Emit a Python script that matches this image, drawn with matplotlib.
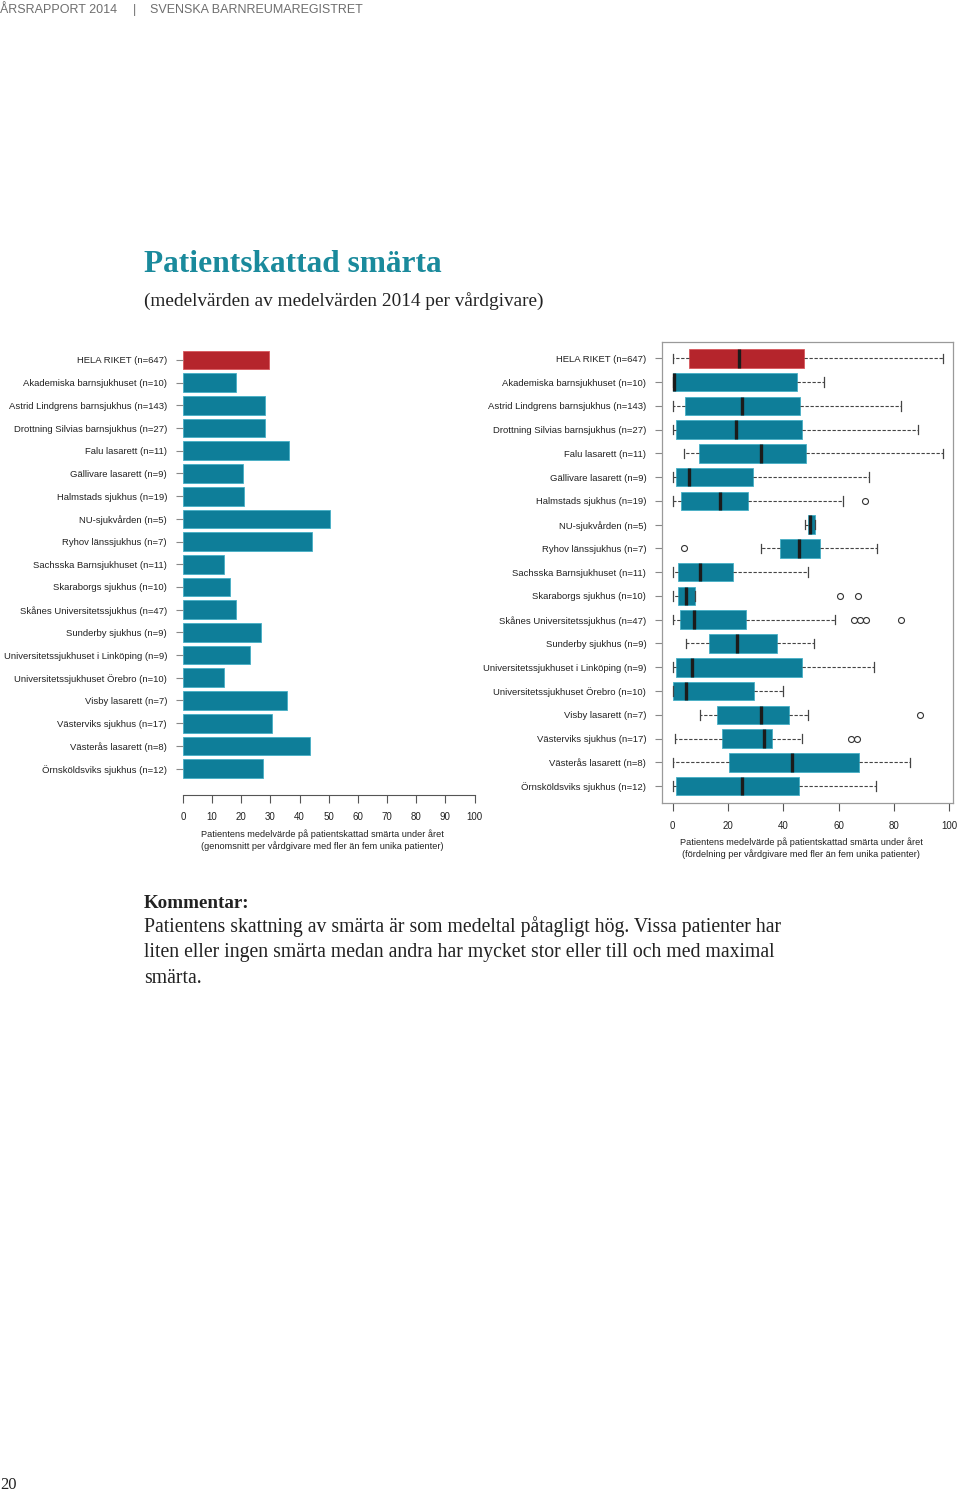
import numpy as np
import matplotlib
matplotlib.use('Agg')
import matplotlib.pyplot as plt

# vårdgivare (uppifrån och ned)
hospitals = [
    'HELA RIKET (n=647)',
    'Akademiska barnsjukhuset (n=10)',
    'Astrid Lindgrens barnsjukhus (n=143)',
    'Drottning Silvias barnsjukhus (n=27)',
    'Falu lasarett (n=11)',
    'Gällivare lasarett (n=9)',
    'Halmstads sjukhus (n=19)',
    'NU-sjukvården (n=5)',
    'Ryhov länssjukhus (n=7)',
    'Sachsska Barnsjukhuset (n=11)',
    'Skaraborgs sjukhus (n=10)',
    'Skånes Universitetssjukhus (n=47)',
    'Sunderby sjukhus (n=9)',
    'Universitetssjukhuset i Linköping (n=9)',
    'Universitetssjukhuset Örebro (n=10)',
    'Visby lasarett (n=7)',
    'Västerviks sjukhus (n=17)',
    'Västerås lasarett (n=8)',
    'Örnsköldsviks sjukhus (n=12)',
]

# medelvärde per vårdgivare
mean_pain = [29.4, 18.1, 28.3, 28.1, 36.2, 20.7, 21.0, 50.3, 44.2, 14.1,
             16.0, 18.1, 26.8, 23.0, 13.9, 35.7, 30.7, 43.7, 27.3]

# fördelning per vårdgivare (boxplot)
whislo = [0.0, 0.0, 0.0, 0.1, 4.0, 0.0, 0.0, 48.0, 31.9, 0.0,
          0.0, 0.0, 4.9, 0.0, 0.0, 10.0, 1.0, 0.0, 0.0]
q1 = [6.0, 0.0, 4.6, 1.3, 9.5, 1.1, 3.0, 48.8, 38.9, 2.0,
      2.0, 2.8, 13.0, 1.1, 0.0, 16.0, 17.9, 20.5, 1.1]
med = [23.8, 0.5, 24.9, 23.0, 31.9, 6.0, 17.0, 49.7, 45.8, 10.0,
       4.7, 7.6, 23.2, 7.0, 4.9, 32.1, 32.9, 43.3, 24.9]
q3 = [47.3, 44.8, 46.1, 46.7, 48.3, 28.9, 27.4, 51.6, 53.1, 21.9,
      7.9, 26.5, 37.8, 46.8, 29.4, 42.0, 36.0, 67.3, 45.8]
whishi = [97.6, 54.8, 82.7, 88.6, 97.6, 70.8, 61.7, 51.6, 73.8, 48.9,
          7.9, 58.6, 51.0, 72.7, 39.8, 48.9, 46.9, 85.7, 73.6]
outliers = [[], [], [], [], [], [], [69.7], [], [4.0], [],
            [60.6, 67.1], [65.7, 67.8, 69.8, 82.7], [], [], [], [89.5],
            [64.6, 66.8], [], []]

teal = '#0E7E99'
teal_edge = '#45AFC6'
red = '#B5252C'
title_teal = '#1A8A9C'
sans = 'Liberation Sans'
serif = 'Liberation Serif'

W, H = 960, 1493
fig = plt.figure(figsize=(W / 100, H / 100), dpi=100)


def px_axes(x0, y0, x1, y1):
    return fig.add_axes([x0 / W, 1 - y1 / H, (x1 - x0) / W, (y1 - y0) / H])


n = len(hospitals)
pos = np.arange(n)

# --- vänster: stapeldiagram ---
ax1 = px_axes(183, 340, 474.5, 795)
colors = [red] + [teal] * (n - 1)
edges = ['#D8575C'] + [teal_edge] * (n - 1)
ax1.barh(pos, mean_pain, height=0.82, color=colors, edgecolor=edges, linewidth=0.6)
ax1.set_xlim(0, 100)
ax1.set_ylim(19.163, -0.881)
for s in ['top', 'right', 'left']:
    ax1.spines[s].set_visible(False)
ax1.spines['bottom'].set_bounds(0, 100)
ax1.spines['bottom'].set_color('#555555')
ax1.spines['bottom'].set_linewidth(0.8)
ax1.set_xticks(range(0, 101, 10))
ax1.set_yticks(pos)
ax1.set_yticklabels(hospitals)
ax1.tick_params(axis='x', length=5.5, width=0.8, color='#555555', pad=7,
                labelsize=7, labelcolor='#222222')
ax1.tick_params(axis='y', length=5, width=0.8, color='#888888', pad=6.5,
                labelsize=6.8, labelcolor='#222222')

# --- höger: boxplot ---
ax2 = px_axes(662.3, 341.7, 953.3, 802.7)
stats = []
for i in range(n):
    stats.append({'label': hospitals[i], 'whislo': whislo[i], 'q1': q1[i],
                  'med': med[i], 'q3': q3[i], 'whishi': whishi[i],
                  'fliers': np.array(outliers[i])})
bp = ax2.bxp(stats, positions=pos, widths=0.78, orientation='horizontal',
             patch_artist=True, capwidths=0.4,
             boxprops=dict(facecolor=teal, edgecolor=teal_edge, linewidth=0.6),
             medianprops=dict(color='#1B1B1B', linewidth=2.4, solid_capstyle='butt'),
             whiskerprops=dict(color='#444444', linestyle=(0, (3, 1.5)), linewidth=0.8),
             capprops=dict(color='#444444', linewidth=0.9),
             flierprops=dict(marker='o', markerfacecolor='none', markeredgecolor='#333333',
                             markersize=4.3, markeredgewidth=0.8))
bp['boxes'][0].set_facecolor(red)
bp['boxes'][0].set_edgecolor('#D8575C')
ax2.set_xlim(-3.76, 101.45)
ax2.set_ylim(18.70, -0.70)
for s in ax2.spines.values():
    s.set_color('#9A9A9A')
    s.set_linewidth(0.9)
ax2.set_xticks(range(0, 101, 20))
ax2.set_xticklabels([str(v) for v in range(0, 101, 20)])
ax2.set_yticks(pos)
ax2.set_yticklabels(hospitals)
ax2.tick_params(axis='x', length=5.5, width=0.8, color='#555555', pad=8,
                labelsize=7, labelcolor='#222222')
ax2.tick_params(axis='y', length=5, width=0.8, color='#888888', pad=6.5,
                labelsize=6.8, labelcolor='#222222')

for ax in (ax1, ax2):
    for lab in ax.get_xticklabels() + ax.get_yticklabels():
        lab.set_family(sans)

# axeltexter
fig.text(322 / W, 1 - 834 / H, 'Patientens medelvärde på patientskattad smärta under året',
         ha='center', va='center', fontsize=6.6, family=sans, color='#222222')
fig.text(322 / W, 1 - 846 / H, '(genomsnitt per vårdgivare med fler än fem unika patienter)',
         ha='center', va='center', fontsize=6.6, family=sans, color='#222222')
fig.text(801 / W, 1 - 842 / H, 'Patientens medelvärde på patientskattad smärta under året',
         ha='center', va='center', fontsize=6.6, family=sans, color='#222222')
fig.text(801 / W, 1 - 854 / H, '(fördelning per vårdgivare med fler än fem unika patienter)',
         ha='center', va='center', fontsize=6.6, family=sans, color='#222222')

# sidhuvud
fig.text(0, 1 - 13 / H, 'ÅRSRAPPORT 2014', fontsize=9, family=sans, color='#6E6E6E',
         va='baseline')
fig.text(133 / W, 1 - 13 / H, '|', fontsize=9, family=sans, color='#6E6E6E', va='baseline')
fig.text(150 / W, 1 - 13 / H, 'SVENSKA BARNREUMAREGISTRET', fontsize=9, family=sans,
         color='#6E6E6E', va='baseline')

# rubriker
fig.text(144 / W, 1 - 272 / H, 'Patientskattad smärta', fontsize=22.6, fontweight='bold',
         family=serif, color=title_teal, va='baseline')
fig.text(144 / W, 1 - 306 / H, '(medelvärden av medelvärden 2014 per vårdgivare)',
         fontsize=13.9, family=serif, color='#222222', va='baseline')

# kommentar
fig.text(144 / W, 1 - 908 / H, 'Kommentar:', fontsize=13.7, fontweight='bold',
         family=serif, color='#222222', va='baseline')
comment = ['Patientens skattning av smärta är som medeltal påtagligt hög. Vissa patienter har',
           'liten eller ingen smärta medan andra har mycket stor eller till och med maximal',
           'smärta.']
for i, line in enumerate(comment):
    fig.text(144 / W, 1 - (932 + 25.3 * i) / H, line, fontsize=14.2, family=serif,
             color='#222222', va='baseline')

fig.text(0, 1 - 1489 / H, '20', fontsize=12, family=serif, color='#222222', va='baseline')

fig.savefig('out.png', dpi=100)
